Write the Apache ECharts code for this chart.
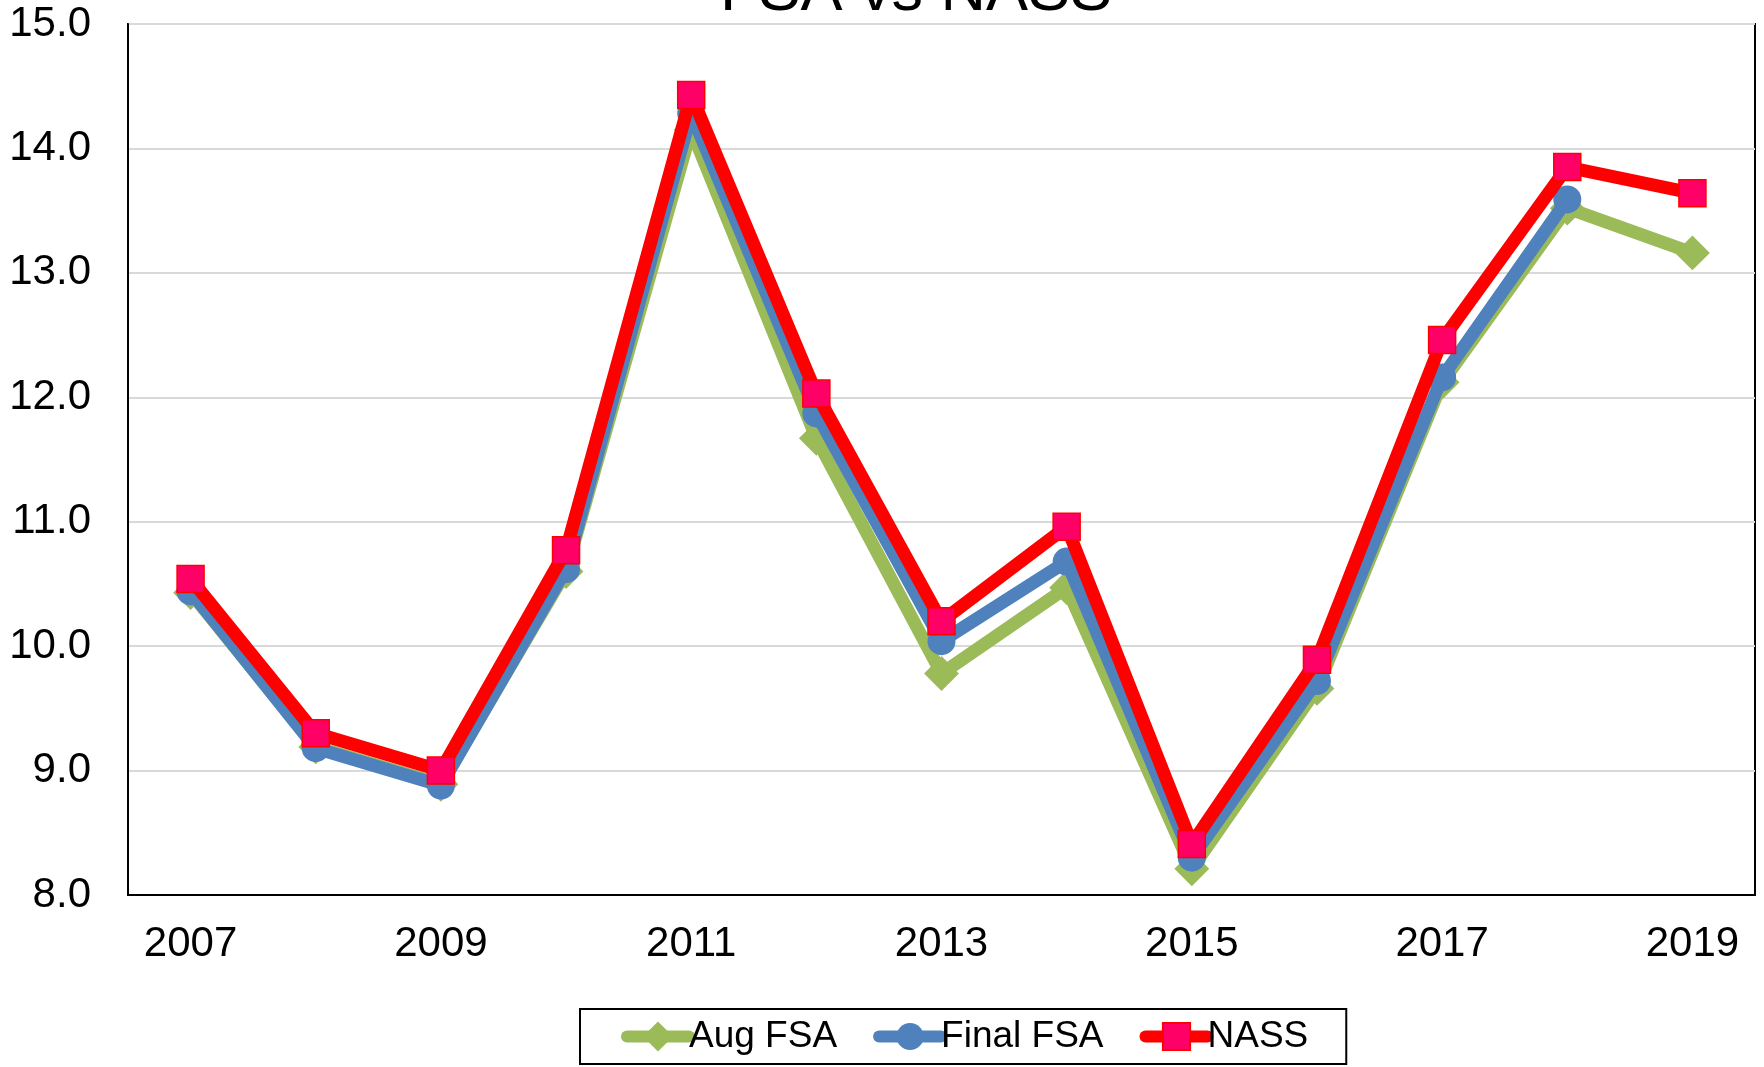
<!DOCTYPE html>
<html>
<head>
<meta charset="utf-8">
<script src="https://cdn.jsdelivr.net/npm/echarts@6/dist/echarts.min.js"></script>
<style>
  html, body { margin: 0; padding: 0; background: #fff; }
  #chart { width: 1764px; height: 1067px; }
</style>
</head>
<body>
<div id="chart"></div>
<script>
// years on the x axis
var years = ['2007', '2008', '2009', '2010', '2011', '2012', '2013',
             '2014', '2015', '2016', '2017', '2018', '2019'];

// values
var augFsa   = [10.43, 9.19, 8.89, 10.60, 14.15, 11.67, 9.78, 10.47, 8.21, 9.66, 12.12, 13.52, 13.16];
var finalFsa = [10.44, 9.18, 8.88, 10.62, 14.28, 11.87, 10.04, 10.68, 8.30, 9.72, 12.16, 13.59, null];
var nass     = [10.54, 9.30, 9.00, 10.77, 14.43, 12.03, 10.20, 10.96, 8.41, 9.89, 12.46, 13.85, 13.64];

var yTicks = { min: 8, max: 15, step: 1 };

var font = 'Liberation Sans, Arial, sans-serif';

var chart = echarts.init(document.getElementById('chart'));

chart.setOption({
  animation: false,
  backgroundColor: '#fff',
  textStyle: { fontFamily: font },
  title: {
    text: 'FSA vs NASS',
    left: 715,
    top: -44,
    textStyle: { fontFamily: font, fontSize: 63, fontWeight: 'normal', color: '#000' }
  },
  grid: {
    show: true,
    left: 128,
    right: 9,
    top: 24,
    bottom: 172,
    borderColor: '#000',
    borderWidth: 2
  },
  legend: {
    left: 580,
    top: 1009,
    padding: [9, 38, 9, 41],
    itemGap: 36,
    itemWidth: 62,
    itemHeight: 34,
    borderColor: '#000',
    borderWidth: 2,
    lineStyle: { width: 12, cap: 'round' },
    textStyle: { fontFamily: font, fontSize: 37, color: '#000', padding: [0, 0, 0, -5] },
    data: ['Aug FSA', 'Final FSA', 'NASS']
  },
  xAxis: {
    type: 'category',
    data: years,
    boundaryGap: true,
    axisLine: { lineStyle: { color: '#000', width: 2 } },
    axisTick: { show: false },
    axisLabel: { interval: 1, margin: 28, fontSize: 42, color: '#000', fontFamily: font },
    splitLine: { show: false }
  },
  yAxis: {
    type: 'value',
    min: yTicks.min,
    max: yTicks.max,
    interval: yTicks.step,
    axisLine: { show: true, lineStyle: { color: '#000', width: 2 } },
    axisTick: { show: false },
    axisLabel: {
      margin: 37,
      fontSize: 42,
      color: '#000',
      fontFamily: font,
      formatter: function (v) { return v.toFixed(1); }
    },
    splitLine: { lineStyle: { color: '#d9d9d9', width: 2 } }
  },
  series: [
    {
      name: 'Aug FSA',
      type: 'line',
      data: augFsa,
      symbol: 'diamond',
      symbolSize: 32,
      lineStyle: { color: '#9bbb59', width: 13, join: 'round' },
      itemStyle: { color: '#9bbb59', borderColor: '#9bbb59', borderWidth: 2 },
      z: 2
    },
    {
      name: 'Final FSA',
      type: 'line',
      data: finalFsa,
      symbol: 'circle',
      symbolSize: 28,
      connectNulls: false,
      lineStyle: { color: '#4f81bd', width: 13, join: 'round' },
      itemStyle: { color: '#4f81bd' },
      z: 3
    },
    {
      name: 'NASS',
      type: 'line',
      data: nass,
      symbol: 'rect',
      symbolSize: 27,
      lineStyle: { color: '#ff0000', width: 13, join: 'round' },
      itemStyle: { color: '#ff0066', borderColor: '#ff0000', borderWidth: 1.5 },
      z: 4
    }
  ]
});
</script>
</body>
</html>
